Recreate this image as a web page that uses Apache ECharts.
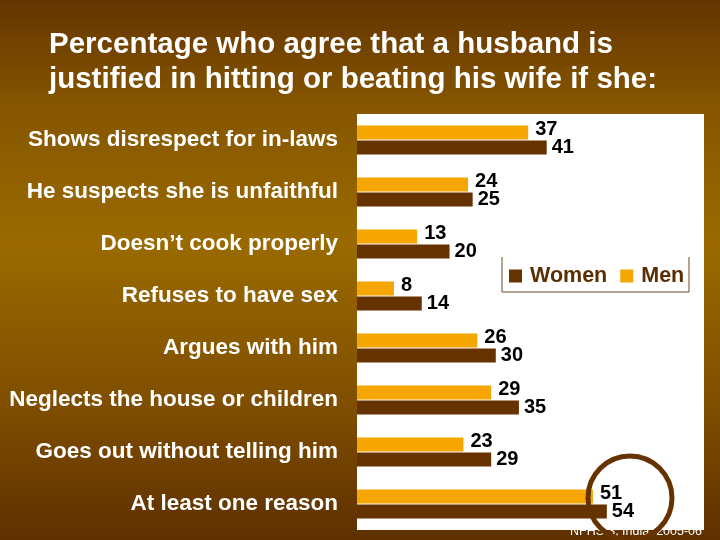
<!DOCTYPE html>
<html><head><meta charset="utf-8">
<script src="https://cdn.jsdelivr.net/npm/echarts@6/dist/echarts.min.js"></script>
<style>html,body{margin:0;padding:0;}#c{width:720px;height:540px;}</style>
</head><body><div id="c"></div>
<script>
const categories = ["Shows disrespect for in-laws","He suspects she is unfaithful","Doesn\u2019t cook properly","Refuses to have sex","Argues with him","Neglects the house or children","Goes out without telling him","At least one reason"];
const men = [37,24,13,8,26,29,23,51];
const women = [41,25,20,14,30,35,29,54];
const seriesNames = ["Women","Men"];

const chart = echarts.init(document.getElementById('c'));
const FONT = 'Liberation Sans, Arial, sans-serif';
const lblBase = {show:true, position:'right', color:'#000', fontSize:20, fontWeight:'bold', fontFamily:FONT};
chart.setOption({
  backgroundColor: {type:'linear', x:0, y:0, x2:0, y2:1, colorStops:[
    {offset:0, color:'#643500'}, {offset:0.2, color:'#865600'}, {offset:0.45, color:'#9a6a00'},
    {offset:0.75, color:'#7f4e00'}, {offset:1, color:'#5e3000'}]},
  title: {text:'Percentage who agree that a husband is\njustified in hitting or beating his wife if she:',
    left:44, top:22, textStyle:{color:'#fff', fontSize:29.5, fontWeight:'bold', fontFamily:FONT, lineHeight:35}},
  legend: {data:seriesNames, left:503, top:259, padding:[6,6,6,6],
    borderWidth:0, icon:'rect', itemWidth:13, itemHeight:13, itemGap:13,
    textStyle:{color:'#5a2e00', fontSize:21.5, fontWeight:'bold', fontFamily:FONT, padding:[0,0,0,3]}},
  grid: {left:357, top:114, width:347, height:416, show:true, backgroundColor:'#fff', borderWidth:0, z:1},
  xAxis: {type:'value', min:0, max:75, show:false, splitLine:{show:false}},
  yAxis: {type:'category', data:categories, inverse:true,
    axisLine:{show:false}, axisTick:{show:false},
    axisLabel:{color:'#fff', fontSize:22.5, fontWeight:'bold', fontFamily:FONT, margin:19}},
  series: [
    {name:'Men', type:'bar', data:men, itemStyle:{color:'#f5a600'}, barWidth:14, barGap:'7%', barCategoryGap:'46%',
      label:Object.assign({}, lblBase, {distance:7, offset:[0,-3]}), z:3},
    {name:'Women', type:'bar', data:women, itemStyle:{color:'#663300'}, barWidth:14, barGap:'7%', barCategoryGap:'46%',
      label:Object.assign({}, lblBase, {distance:5}), z:3}
  ]
});
const p = chart.convertToPixel({xAxisIndex:0, yAxisIndex:0}, [59, categories.length-1]);
chart.setOption({graphic:[
  {type:'text', left:570, top:525, z:-10, style:{text:'NFHS-3, India, 2005-06', fill:'#fff', font:'12.5px '+FONT}},
  {type:'polyline', z:10, shape:{points:[[502,257],[502,292],[689,292],[689,257]]}, style:{stroke:'#6b4a2a', lineWidth:1, fill:'none'}},
  {type:'circle', z:100, shape:{cx:p[0], cy:p[1]-6, r:42}, style:{fill:'none', stroke:'#663300', lineWidth:5}}
]});
</script></body></html>
